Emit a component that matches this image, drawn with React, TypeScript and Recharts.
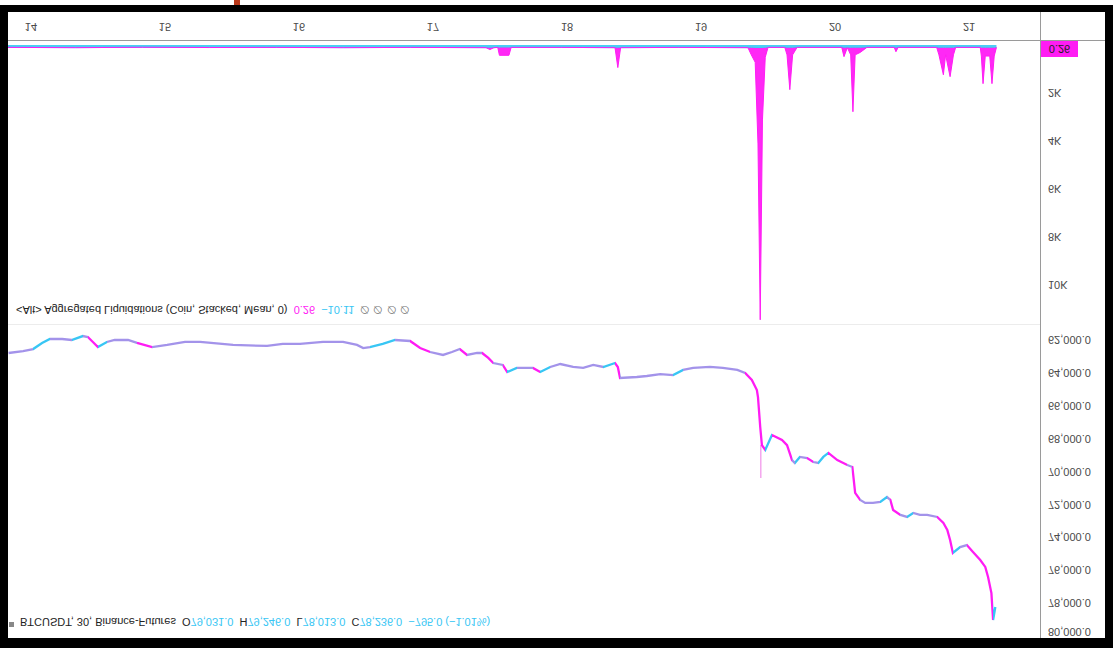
import { ComposedChart, AreaChart, Area, Line, XAxis, YAxis } from "recharts";

// hours since the 14th 00:00, 30m chart read at roughly hourly steps
const dayTicks = [0, 24, 48, 72, 96, 120, 144, 168];
const dayLabels = ["14", "15", "16", "17", "18", "19", "20", "21"];
const priceTicks = [62000, 64000, 66000, 68000, 70000, 72000, 74000, 76000, 78000, 80000];
const liqTicks = [2000, 4000, 6000, 8000, 10000];

const priceHours = [
  -4.0, -1.4, 0.4, 2.0, 3.4, 5.6, 7.3, 9.3, 10.2, 11.1, 12.0, 13.6, 15.0, 17.4, 19.0, 21.7,
  24.4, 27.6, 30.3, 36.2, 42.3, 45.1, 48.2, 52.3, 55.9, 58.4, 59.5, 60.7, 63.0, 65.2, 67.9,
  69.7, 71.5, 73.8, 75.4, 76.8, 78.1, 79.9, 80.8, 81.9, 82.8, 84.5, 85.3, 87.0, 89.9, 91.2,
  93.0, 94.8, 97.1, 98.9, 100.7, 102.5, 104.6, 105.1, 105.5, 108.5, 110.3, 112.7, 115.0,
  116.8, 118.6, 121.6, 123.9, 126.5, 127.9, 129.1, 130.0, 130.2, 130.6, 130.9, 131.5, 132.7,
  134.5, 135.4, 136.3, 136.8, 137.7, 139.0, 140.1, 141.0, 141.9, 142.8, 144.4, 146.2, 147.1,
  147.6, 148.5, 149.4, 150.8, 152.1, 153.3, 153.9, 154.4, 155.7, 156.9, 158.0, 159.2, 160.5,
  162.3, 163.4, 164.1, 164.6, 165.1, 166.4, 167.6, 168.7, 170.0, 170.9, 171.4, 172.0, 172.3,
  172.7,
];
const priceClose = [
  62790, 62670, 62550, 62180, 61940, 61940, 62000, 61760, 61820, 62120, 62430, 62120, 62000,
  62000, 62180, 62430, 62300, 62120, 62120, 62300, 62360, 62240, 62240, 62120, 62120, 62300,
  62490, 62430, 62240, 62000, 62060, 62490, 62730, 62910, 62730, 62550, 62910, 62790, 62790,
  63090, 63400, 63520, 63950, 63700, 63700, 63950, 63640, 63460, 63640, 63700, 63520, 63640,
  63400, 63640, 64310, 64250, 64190, 64070, 64130, 63820, 63700, 63640, 63700, 63820, 64010,
  64430, 65040, 65470, 67290, 68390, 68690, 67780, 68080, 68390, 69300, 69480, 69110, 69180,
  69420, 69480, 69110, 68870, 69300, 69600, 69720, 71300, 71730, 71910, 71910, 71850, 71550,
  71730, 72340, 72640, 72760, 72520, 72640, 72640, 72760, 73130, 73550, 74160, 74950, 74590,
  74470, 74890, 75380, 75800, 76410, 77390, 79030, 78240,
];
const wickHours = [130.7, 130.7];
const wickPrice = [68390, 70390];

const liqHours = [
  -4.1, 8, 20, 32, 44, 56, 68, 81.5, 82.2, 82.9, 83.6, 83.9, 85.6, 86.0, 95, 104.6, 105.1,
  105.6, 116, 128.4, 129.0, 129.7, 130.2, 130.6, 131.0, 131.5, 132, 135.0, 135.4, 135.9,
  136.4, 137.2, 145.2, 145.6, 146.2, 146.8, 147.2, 147.6, 148.5, 149.7, 154.6, 154.9, 155.3,
  162.2, 162.6, 163.4, 163.8, 164.6, 165.2, 165.6, 170.0, 170.2, 170.5, 170.9, 171.7, 172.1,
  172.5, 172.9,
];
const liqShorts = [
  0, 0, 0, 0, 0, 0, 0, 0, 80, 0, 0, 330, 330, 0, 0, 0, 830, 0, 0, 0, 300, 600, 4000, 11330,
  3000, 400, 0, 0, 300, 1750, 300, 0, 0, 375, 0, 300, 2670, 300, 200, 0, 0, 170, 0, 0, 300,
  1130, 300, 1210, 300, 0, 0, 350, 1500, 350, 350, 1500, 350, 0,
];
const liqLongs = [
  100, 110, 95, 105, 100, 110, 100, 110, 110, 110, 100, 100, 100, 100, 100, 110, 110, 110,
  100, 110, 110, 120, 120, 120, 120, 110, 100, 100, 110, 110, 110, 100, 100, 110, 110, 110,
  110, 110, 110, 100, 100, 110, 100, 100, 110, 110, 110, 110, 110, 100, 100, 110, 110, 110,
  110, 110, 110, 100,
];

const MAGENTA = "#ff1cf4";
const CYAN = "#38c6f4";
const LAVENDER = "#a393ea";
const AXIS = "#9a9a9a";
const TEXT = "#4a4a4a";
const FONT = "'Liberation Sans', Arial, sans-serif";

const priceData = priceHours.map((t, i) => ({ t, price: priceClose[i] }));
const wickData = wickHours.map((t, i) => ({ t, price: wickPrice[i] }));
const liqData = liqHours.map((t, i) => ({ t, shorts: liqShorts[i], longs: liqLongs[i] }));

const T_DOMAIN: [number, number] = [-4.1, 180.7];

// colour each stretch of the close line like the candles under it
function priceStops() {
  const t0 = priceHours[0];
  const span = priceHours[priceHours.length - 1] - t0;
  const out = [];
  for (let i = 0; i < priceHours.length - 1; i++) {
    const d = priceClose[i + 1] - priceClose[i];
    const c = d > 220 ? MAGENTA : d < -180 ? CYAN : LAVENDER;
    out.push(<stop key={`a${i}`} offset={(priceHours[i] - t0) / span} stopColor={c} />);
    out.push(<stop key={`b${i}`} offset={(priceHours[i + 1] - t0) / span} stopColor={c} />);
  }
  return out;
}

const fmtPrice = (v: number) => v.toLocaleString("en-US", { minimumFractionDigits: 1, maximumFractionDigits: 1 });

export default function App() {
  const tick = { fontSize: 11, fill: TEXT, fontFamily: FONT };
  return (
    <div style={{ position: "absolute", left: 0, top: 0, width: 1113, height: 648, background: "#fff" }}>
      <div style={{ position: "absolute", left: 234, top: 0, width: 6, height: 6, background: "#b8381a" }} />
      <div style={{ position: "absolute", left: 0, top: 5, width: 1113, height: 643, background: "#000" }} />
      {/* the whole chart is mirrored top-to-bottom, like the reference */}
      <div style={{ position: "absolute", left: 8, top: 12, width: 1097, height: 626, background: "#fff", transform: "scaleY(-1)", overflow: "hidden", fontFamily: FONT }}>
        <div style={{ position: "absolute", left: 0, top: 0 }}>
          <ComposedChart width={1097} height={313} data={priceData} margin={{ top: 0, right: 0, bottom: 0, left: 0 }}>
            <defs>
              <linearGradient id="priceGrad" x1="0" y1="0" x2="1" y2="0">
                {priceStops()}
              </linearGradient>
            </defs>
            <XAxis dataKey="t" type="number" domain={T_DOMAIN} ticks={dayTicks} hide />
            <YAxis orientation="right" width={65} domain={[61088, 80122]} ticks={priceTicks} allowDataOverflow
              axisLine={false} tickLine={false} tick={tick} tickFormatter={fmtPrice} />
            <Line data={wickData} dataKey="price" stroke="#f4a6ee" strokeWidth={1.5} dot={false} isAnimationActive={false} />
            <Line dataKey="price" stroke="url(#priceGrad)" strokeWidth={2.3} dot={false} isAnimationActive={false} />
          </ComposedChart>
        </div>
        <div style={{ position: "absolute", left: 0, top: 313 }}>
          <AreaChart width={1097} height={313} data={liqData} margin={{ top: 0, right: 0, bottom: 0, left: 0 }}>
            <XAxis dataKey="t" type="number" domain={T_DOMAIN} ticks={dayTicks} height={29}
              axisLine={false} tickLine={false} tick={tick} tickMargin={4}
              tickFormatter={(v: number) => dayLabels[dayTicks.indexOf(v)]} />
            <YAxis orientation="right" width={65} domain={[-167, 11667]} ticks={liqTicks} allowDataOverflow
              axisLine={false} tickLine={false} tick={tick} tickFormatter={(v: number) => `${v / 1000}K`} />
            <Area type="linear" dataKey="longs" stackId="liq" stroke={CYAN} strokeWidth={1} fill={CYAN} fillOpacity={0.9} isAnimationActive={false} />
            <Area type="linear" dataKey="shorts" stackId="liq" stroke={MAGENTA} strokeWidth={1} fill={MAGENTA} fillOpacity={0.95} isAnimationActive={false} />
          </AreaChart>
        </div>
        <div style={{ position: "absolute", left: 1032, top: 0, width: 1, height: 626, background: AXIS }} />
        <div style={{ position: "absolute", left: 0, top: 597, width: 1097, height: 1, background: AXIS }} />
        <div style={{ position: "absolute", left: 0, top: 313, width: 1032, height: 1, background: "#ececec" }} />
        <div style={{ position: "absolute", left: 1033, top: 581, width: 37, height: 16, background: MAGENTA, color: "#222", fontSize: 11, lineHeight: "16px", textAlign: "center" }}>0.26</div>
        <div style={{ position: "absolute", left: 1, top: 11, width: 5, height: 5, background: "#888" }} />
        <div style={{ position: "absolute", left: 12, top: 9, fontSize: 11, lineHeight: "14px", color: "#222", whiteSpace: "nowrap" }}>
          BTCUSDT, 30, Binance-Futures&nbsp; O<span style={{ color: CYAN }}>79,031.0</span>&nbsp; H<span style={{ color: CYAN }}>79,246.0</span>&nbsp; L<span style={{ color: CYAN }}>78,013.0</span>&nbsp; C<span style={{ color: CYAN }}>78,236.0&nbsp; −795.0 (−1.01%)</span>
        </div>
        <div style={{ position: "absolute", left: 8, top: 321, fontSize: 11, lineHeight: "14px", color: "#222", whiteSpace: "nowrap" }}>
          &lt;Alt&gt; Aggregated Liquidations (Coin, Stacked, Mean, 0)&nbsp; <span style={{ color: MAGENTA }}>0.26</span>&nbsp; <span style={{ color: CYAN }}>−10.11</span>&nbsp; <span style={{ color: "#777" }}>∅ ∅ ∅ ∅</span>
        </div>
      </div>
    </div>
  );
}
